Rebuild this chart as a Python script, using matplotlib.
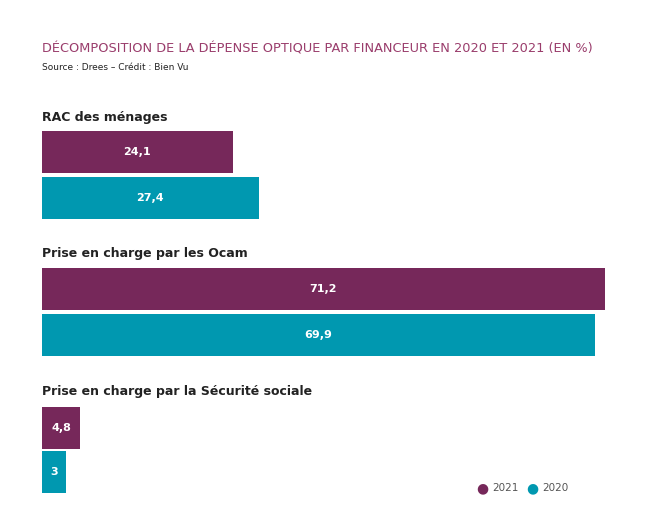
import matplotlib.pyplot as plt

groups = ["RAC des ménages", "Prise en charge par les Ocam", "Prise en charge par la Sécurité sociale"]
values_2021 = [24.1, 71.2, 4.8]
values_2020 = [27.4, 69.9, 3.0]
labels_2021 = ["24,1", "71,2", "4,8"]
labels_2020 = ["27,4", "69,9", "3"]

c21 = "#76285a"
c20 = "#0098b0"

W, H = 646, 531
fig = plt.figure(figsize=(W / 100, H / 100), dpi=100)
ax = fig.add_axes([42 / W, 0, 563 / W, 1])
ax.set_xlim(0, 71.2)
ax.set_ylim(H, 0)
ax.axis("off")

# pixel rows of each group's header and bars
head_y = [117, 254, 392]
y21 = [152, 289, 428]
y20 = [198, 335, 472]
bh = 42

for i, g in enumerate(groups):
    ax.text(0, head_y[i], g, fontsize=9, fontweight="bold", va="center", ha="left", color="#222222")
    ax.barh(y21[i], values_2021[i], height=bh, color=c21)
    ax.barh(y20[i], values_2020[i], height=bh, color=c20)
    ax.text(values_2021[i] / 2, y21[i], labels_2021[i], color="white", fontsize=8,
            fontweight="bold", ha="center", va="center")
    ax.text(values_2020[i] / 2, y20[i], labels_2020[i], color="white", fontsize=8,
            fontweight="bold", ha="center", va="center")

fig.text(42 / W, 1 - 49 / H, "DÉCOMPOSITION DE LA DÉPENSE OPTIQUE PAR FINANCEUR EN 2020 ET 2021 (EN %)",
         fontsize=9.3, color="#9a3d6c", va="center", ha="left")
fig.text(42 / W, 1 - 67 / H, "Source : Drees – Crédit : Bien Vu", fontsize=6.5, color="#222222",
         va="center", ha="left")

# legend
fig.text(482 / W, 1 - 488 / H, "●", color=c21, fontsize=10, va="center", ha="center")
fig.text(492 / W, 1 - 488 / H, "2021", color="#555555", fontsize=7.5, va="center", ha="left")
fig.text(532 / W, 1 - 488 / H, "●", color=c20, fontsize=10, va="center", ha="center")
fig.text(542 / W, 1 - 488 / H, "2020", color="#555555", fontsize=7.5, va="center", ha="left")

fig.savefig("out.png", dpi=100)
